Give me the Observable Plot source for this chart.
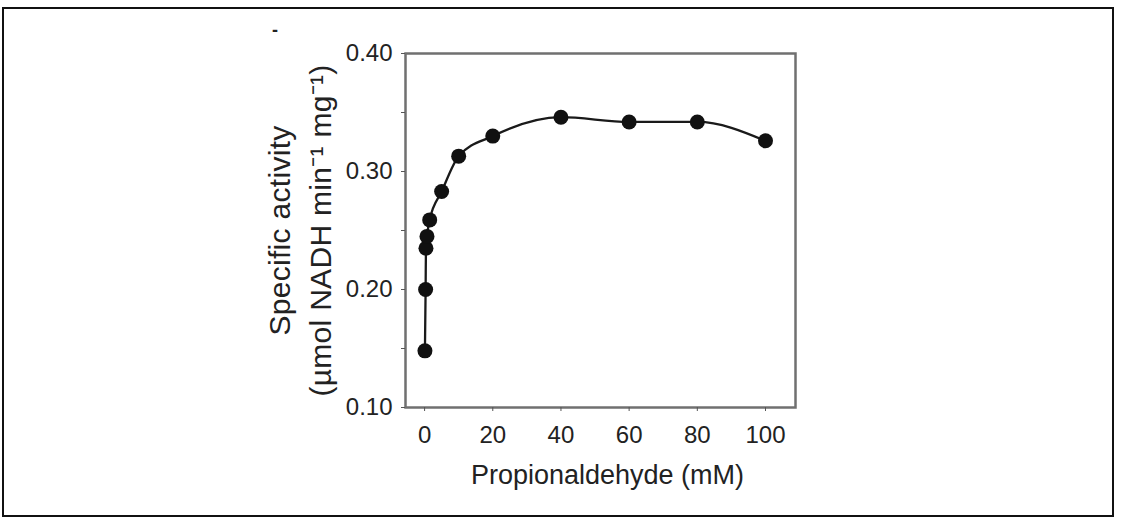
<!DOCTYPE html>
<html><head><meta charset="utf-8">
<script src="https://cdn.jsdelivr.net/npm/d3@7"></script>
<script src="https://cdn.jsdelivr.net/npm/@observablehq/plot@0.6"></script>
<style>
html,body{margin:0;padding:0;background:#fff;}
#wrap{position:relative;width:1123px;height:521px;overflow:hidden;}
#border{position:absolute;left:2px;top:7px;width:1112px;height:510px;border:2px solid #111;box-sizing:border-box;}
#mark{position:absolute;left:272px;top:20px;font:bold 18px "Liberation Sans",Arial,sans-serif;color:#222;z-index:2;}
#chart{position:absolute;left:0;top:0;}
</style>
</head><body>
<div id="wrap"><div id="border"></div><div id="chart"></div><div id="mark">-</div></div>
<script>
const concentration = [0.1, 0.3, 0.4, 0.7, 1.5, 5, 10, 20, 40, 60, 80, 100];
const activity = [0.148, 0.200, 0.235, 0.245, 0.259, 0.283, 0.313, 0.330, 0.346, 0.342, 0.342, 0.326];
const xTicks = [0, 20, 40, 60, 80, 100];
const yTicks = [0.10, 0.15, 0.20, 0.25, 0.30, 0.35, 0.40];
const yLabelTicks = [0.10, 0.20, 0.30, 0.40];
const xTitle = "Propionaldehyde (mM)";
const yTitle = ["Specific activity", "(µmol NADH min⁻¹ mg⁻¹)"];

const data = concentration.map((c, i) => ({c, a: activity[i]}));

const chart = Plot.plot({
  width: 1123, height: 521,
  marginLeft: 405, marginRight: 328, marginTop: 53, marginBottom: 114,
  style: {fontFamily: "'Liberation Sans', Arial, sans-serif", fontSize: "24px", background: "transparent", color: "#222"},
  x: {domain: [-5.6, 108.8]},
  y: {domain: [0.10, 0.40]},
  marks: [
    Plot.line(data, {x: "c", y: "a", curve: "monotone-x", stroke: "#1a1a1a", strokeWidth: 2.3}),
    Plot.dot(data, {x: "c", y: "a", r: 7.5, fill: "#111", stroke: "none"}),
    Plot.frame({stroke: "#707070", strokeWidth: 2.5}),
    Plot.axisX({ticks: xTicks, tickSize: 4, tickPadding: 14, label: null, stroke: "#555", tickFormat: d => String(d)}),
    Plot.axisY({ticks: yTicks, tickSize: 4, tickPadding: 9, label: null, stroke: "#555",
      tickFormat: d => yLabelTicks.some(v => Math.abs(v - d) < 1e-9) ? d.toFixed(2) : ""}),
    Plot.text([xTitle], {frameAnchor: "bottom", lineAnchor: "bottom", dy: 76, dx: 7, fontSize: 27, fill: "#222"}),
    Plot.text([yTitle.join("\n")], {frameAnchor: "left", textAnchor: "middle", rotate: -90, lineAnchor: "middle", lineHeight: 1.37, dx: -108, dy: 0, fontSize: 30, fill: "#222"})
  ]
});
d3.select(chart).selectAll("text").filter(function() {
  const t = this.getAttribute("transform") || "";
  return t.includes("rotate");
}).style("letter-spacing", "0.3px");
document.getElementById("chart").appendChild(chart);
</script>
</body></html>
